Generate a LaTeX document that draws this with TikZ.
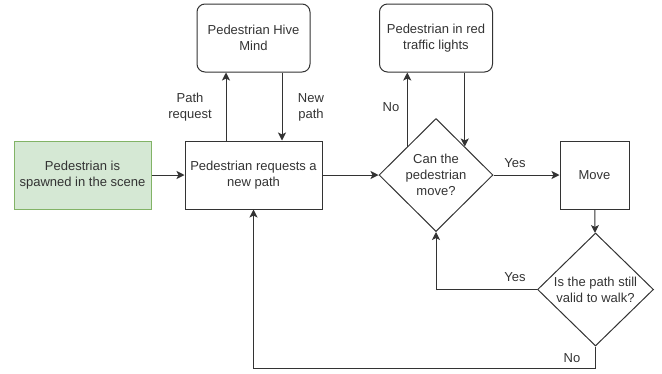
\documentclass[tikz,border=0pt]{standalone}
\usepackage{fontspec}
\setmainfont{Liberation Sans}
\usetikzlibrary{positioning,shapes.geometric,arrows.meta,calc}
\definecolor{spawnfill}{HTML}{D5E8D4}
\definecolor{spawndraw}{HTML}{82B366}
\definecolor{ink}{HTML}{333333}

\begin{document}
\begin{tikzpicture}[x=1pt,y=-1pt,font=\fontsize{13}{16}\selectfont,text=ink,
  box/.style={draw=ink,line width=1pt,align=center,inner sep=2pt,minimum width=137pt,minimum height=68pt},
  soft/.style={box,rounded corners=8pt,minimum width=113pt},
  ask/.style={diamond,draw=ink,line width=1pt,align=center,inner sep=0pt,minimum width=114pt,minimum height=113pt},
  arr/.style={draw=ink,line width=1pt,-{Stealth[length=8pt,width=8pt,inset=2pt]}},
  txt/.style={align=center,inner sep=0pt}]
  \useasboundingbox (0,0) rectangle (662,373);
  \node[box,fill=spawnfill,draw=spawndraw] (spawn) at (82.5,175) {Pedestrian is\\spawned in the scene};
  \node[box] (req) at (253.5,175) {Pedestrian requests a\\new path};
  \node[soft] (hive) at (253.5,38) {Pedestrian Hive\\Mind};
  \node[soft] (red) at (436,38) {Pedestrian in red\\traffic lights};
  \node[ask] (can) at (436,175) {Can the\\pedestrian\\move?};
  \node[box,minimum width=69pt] (move) at (594.5,175) {Move};
  \node[ask,minimum width=116pt] (valid) at (595.5,289.5) {Is the path still\\valid to walk?};

  \node[txt] (preq) at (190,107) {Path\\request};
  \node[txt] (npath) at (311,107) {New\\path};
  \node[txt] (no1) at (391,107) {No};
  \node[txt] (yes1) at (515,163) {Yes};
  \node[txt] (yes2) at (515,277) {Yes};
  \node[txt] (no2) at (572,358) {No};

  \draw[arr] (spawn) -- (req);
  \draw[arr] ($(req.north)+(-27.5,0)$) -- ($(hive.south)+(-27.5,0)$);
  \draw[arr] ($(hive.south)+(28.5,0)$) -- ($(req.north)+(28.5,0)$);
  \draw[arr] (req) -- (can);
  \draw[arr] (can.north west) -- (can.north west |- red.south);
  \draw[arr] (red.south -| can.north east) -- (can.north east);
  \draw[arr] (can) -- (move);
  \draw[arr] (move) -- (valid);
  \draw[arr] (valid.west) -| (can.south);
  \draw[arr] (valid.south) -- ++(0,22) -| (req.south);
\end{tikzpicture}
\end{document}
